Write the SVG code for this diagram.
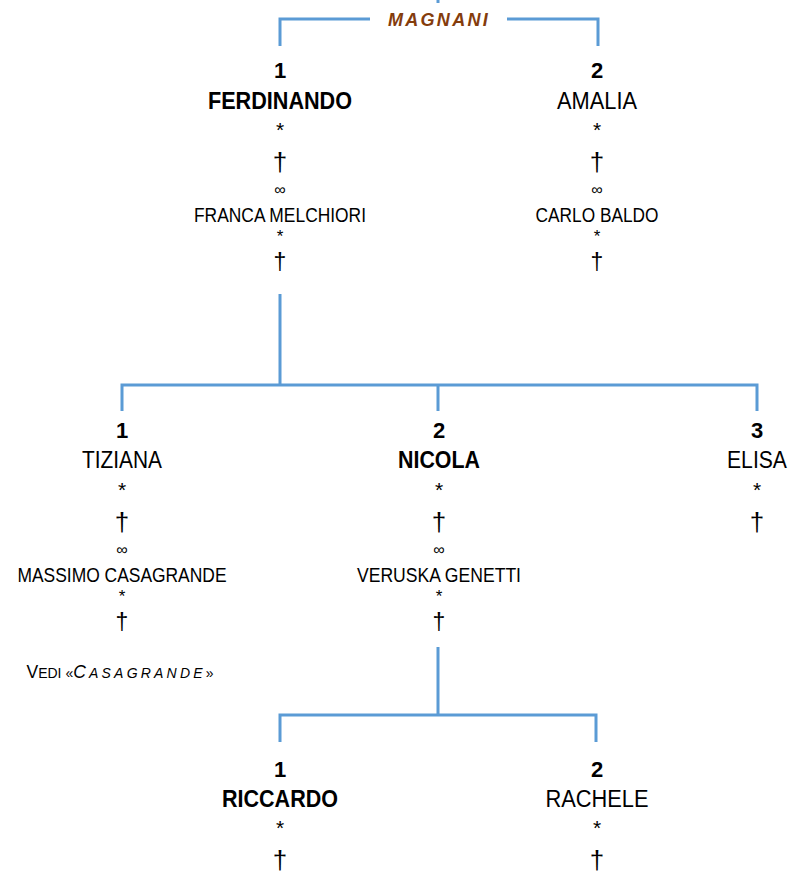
<svg xmlns="http://www.w3.org/2000/svg" width="791" height="876" viewBox="0 0 791 876">
<style>
text{font-family:"Liberation Sans",Arial,sans-serif;fill:#000;text-anchor:middle}
.num{font-size:22px;font-weight:bold}
.nm{font-size:23px}
.b{font-weight:bold}
.ast{font-size:21px}
.dag{font-size:26px}
.inf{font-size:16px}
.sp{font-size:20px}
.ast2{font-size:17px}
.dag2{font-size:23px}
.fam{font-size:18px;font-weight:bold;font-style:italic;fill:#843C0C;letter-spacing:2.3px}
.ln{stroke:#5B9BD5;stroke-width:3;fill:none}
</style>
<g id="connectors">
<path class="ln" d="M438 0V3"/>
<path class="ln" d="M280 46V19H370M507 19H598V46"/>
<path class="ln" d="M280 294V385M122 411V385H757V411M438 385V411"/>
<path class="ln" d="M438 647V715M280 742V715H596V742"/>
</g>
<g id="family-title"><text class="fam" x="439" y="26">MAGNANI</text></g>
<g id="ferdinando">
<text class="num" x="280" y="78">1</text>
<text class="nm b" x="280" y="109" textLength="144" lengthAdjust="spacingAndGlyphs">FERDINANDO</text>
<text class="ast" x="280" y="137">*</text>
<text class="dag" x="280" y="171">†</text>
<text class="inf" x="280" y="195">∞</text>
<text class="sp" x="280" y="222" textLength="172" lengthAdjust="spacingAndGlyphs">FRANCA MELCHIORI</text>
<text class="ast2" x="280" y="242">*</text>
<text class="dag2" x="280" y="270">†</text>
</g>
<g id="amalia">
<text class="num" x="597" y="78">2</text>
<text class="nm" x="597" y="109" textLength="80" lengthAdjust="spacingAndGlyphs">AMALIA</text>
<text class="ast" x="597" y="137">*</text>
<text class="dag" x="597" y="171">†</text>
<text class="inf" x="597" y="195">∞</text>
<text class="sp" x="597" y="222" textLength="123" lengthAdjust="spacingAndGlyphs">CARLO BALDO</text>
<text class="ast2" x="597" y="242">*</text>
<text class="dag2" x="597" y="270">†</text>
</g>
<g id="tiziana">
<text class="num" x="122" y="438">1</text>
<text class="nm" x="122" y="468" textLength="80" lengthAdjust="spacingAndGlyphs">TIZIANA</text>
<text class="ast" x="122" y="497">*</text>
<text class="dag" x="122" y="531">†</text>
<text class="inf" x="122" y="555">∞</text>
<text class="sp" x="122" y="582" textLength="209" lengthAdjust="spacingAndGlyphs">MASSIMO CASAGRANDE</text>
<text class="ast2" x="122" y="602">*</text>
<text class="dag2" x="122" y="630">†</text>
<text x="120" y="678" font-size="14"><tspan font-size="17.5">V</tspan>EDI «<tspan font-style="italic" letter-spacing="3.2"><tspan font-size="17.5">C</tspan>ASAGRANDE</tspan>»</text>
</g>
<g id="nicola">
<text class="num" x="439" y="438">2</text>
<text class="nm b" x="439" y="468" textLength="82" lengthAdjust="spacingAndGlyphs">NICOLA</text>
<text class="ast" x="439" y="497">*</text>
<text class="dag" x="439" y="531">†</text>
<text class="inf" x="439" y="555">∞</text>
<text class="sp" x="439" y="582" textLength="164" lengthAdjust="spacingAndGlyphs">VERUSKA GENETTI</text>
<text class="ast2" x="439" y="602">*</text>
<text class="dag2" x="439" y="630">†</text>
</g>
<g id="elisa">
<text class="num" x="757" y="438">3</text>
<text class="nm" x="757" y="468" textLength="60" lengthAdjust="spacingAndGlyphs">ELISA</text>
<text class="ast" x="757" y="497">*</text>
<text class="dag" x="757" y="531">†</text>
</g>
<g id="riccardo">
<text class="num" x="280" y="777">1</text>
<text class="nm b" x="280" y="807" textLength="116" lengthAdjust="spacingAndGlyphs">RICCARDO</text>
<text class="ast" x="280" y="835">*</text>
<text class="dag" x="280" y="869">†</text>
</g>
<g id="rachele">
<text class="num" x="597" y="777">2</text>
<text class="nm" x="597" y="807" textLength="103" lengthAdjust="spacingAndGlyphs">RACHELE</text>
<text class="ast" x="597" y="835">*</text>
<text class="dag" x="597" y="869">†</text>
</g>
</svg>
